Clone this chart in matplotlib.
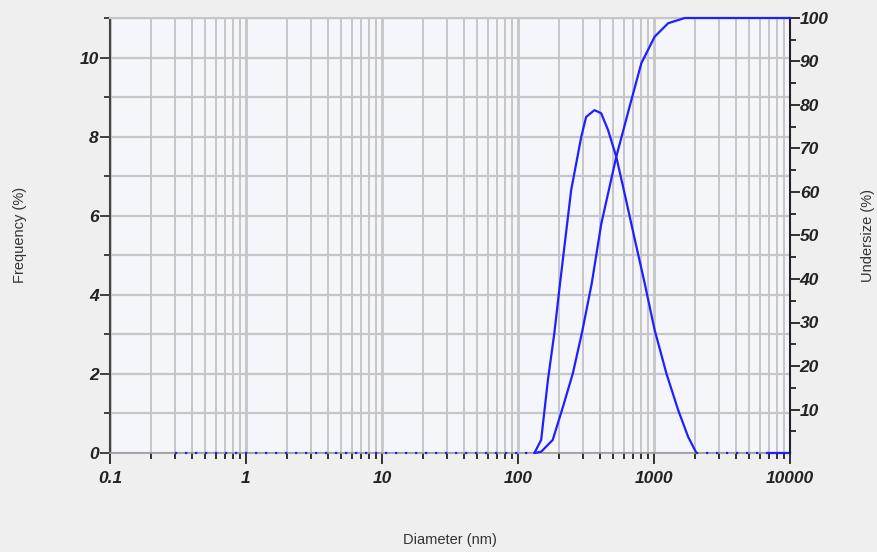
import matplotlib
matplotlib.use("Agg")
import matplotlib.pyplot as plt
from matplotlib.ticker import LogLocator, FixedLocator, NullFormatter, FixedFormatter

# ---- data ----
freq_d = [132, 148, 166, 185, 205, 246, 292, 317, 365, 409, 459, 528, 608, 716, 853, 1011, 1234, 1504, 1782, 2051]
freq_v = [0.0, 0.33, 1.85, 3.03, 4.37, 6.65, 8.0, 8.5, 8.67, 8.59, 8.17, 7.49, 6.56, 5.46, 4.30, 3.11, 2.01, 1.09, 0.41, 0.0]
zero_left_d = [0.3, 132]
zero_right_d = [2051, 7000]
zero_tail_d = [7000, 10000]

under_d = [132, 148, 180, 214, 253, 296, 349, 409, 528, 681, 807, 1011, 1271, 1683, 10000]
under_v = [0.0, 0.3, 3.0, 10.6, 18.3, 27.8, 39.1, 52.6, 68.1, 81.1, 89.6, 95.7, 98.8, 100.0, 100.0]

x_ticks = [0.1, 1, 10, 100, 1000, 10000]
x_ticklabels = ["0.1", "1", "10", "100", "1000", "10000"]
y_left_ticks = [0, 2, 4, 6, 8, 10]
y_right_ticks = [10, 20, 30, 40, 50, 60, 70, 80, 90, 100]

blue = "#1f1fff"
grid_c = "#c6c6c6"
lab_font = dict(family="Liberation Sans", weight="bold", style="italic", size=12.5)

fig = plt.figure(figsize=(8.77, 5.52), dpi=100, facecolor="#efefef")
ax = fig.add_axes([110/877, 1-453/552, 680/877, 435/552])
ax.set_facecolor("#f4f6fc")
ax.set_xscale("log")
ax.set_xlim(0.1, 10000)
ax.set_ylim(0, 11)

# grid
ax.xaxis.set_major_locator(FixedLocator(x_ticks))
ax.xaxis.set_minor_locator(LogLocator(base=10, subs=range(2, 10), numticks=20))
ax.xaxis.set_major_formatter(FixedFormatter(x_ticklabels))
ax.xaxis.set_minor_formatter(NullFormatter())
ax.yaxis.set_major_locator(FixedLocator(y_left_ticks))
ax.yaxis.set_minor_locator(FixedLocator([1, 3, 5, 7, 9, 11]))
ax.grid(True, which="major", axis="x", color=grid_c, lw=2.0)
ax.grid(True, which="minor", axis="x", color=grid_c, lw=1.4)
ax.grid(True, which="both", axis="y", color=grid_c, lw=1.6)
ax.set_axisbelow(True)

ax.spines["top"].set_color(grid_c)
ax.spines["top"].set_linewidth(1.5)
ax.spines["left"].set_color("#444444")
ax.spines["left"].set_linewidth(1.5)
ax.spines["bottom"].set_color("#9a9a9a")
ax.spines["bottom"].set_linewidth(1.2)
ax.spines["right"].set_visible(False)

ax.tick_params(axis="x", which="major", direction="out", length=8, width=1.3, color="#222222", pad=5)
ax.tick_params(axis="x", which="minor", direction="out", length=4, width=1.3, color="#222222")
ax.tick_params(axis="y", which="major", direction="out", length=7, width=1.3, color="#333333", pad=1)
ax.tick_params(axis="y", which="minor", direction="out", length=4, width=1.3, color="#333333")
for t in ax.get_xticklabels() + ax.get_yticklabels():
    t.set_fontproperties(matplotlib.font_manager.FontProperties(**lab_font))
    t.set_color("#222222")

ax.plot(freq_d, freq_v, color=blue, lw=1.6, zorder=3)
ax.plot(zero_left_d, [0, 0], color=blue, lw=1.6, ls=(0, (1, 3.5)), zorder=3, clip_on=False)
ax.plot(zero_right_d, [0, 0], color=blue, lw=1.6, ls=(0, (1, 3.5)), zorder=3, clip_on=False)
ax.plot(zero_tail_d, [0, 0], color=blue, lw=1.6, zorder=3, clip_on=False)

ax2 = ax.twinx()
ax2.set_ylim(0, 100)
ax2.set_xlim(0.1, 10000)
ax2.plot(under_d, under_v, color=blue, lw=1.6, zorder=3, clip_on=False)
for s in ["top", "left", "bottom"]:
    ax2.spines[s].set_visible(False)
ax2.spines["right"].set_color("#222222")
ax2.spines["right"].set_linewidth(1.5)
ax2.yaxis.set_major_locator(FixedLocator(y_right_ticks))
ax2.yaxis.set_minor_locator(FixedLocator([5, 15, 25, 35, 45, 55, 65, 75, 85, 95]))
ax2.tick_params(axis="y", which="major", direction="out", length=7, width=1.3, color="#222222", pad=0)
ax2.tick_params(axis="y", which="minor", direction="out", length=4, width=1.3, color="#222222")
for t in ax2.get_yticklabels():
    t.set_fontproperties(matplotlib.font_manager.FontProperties(**lab_font))
    t.set_color("#222222")

fig.text(20/877, 1-235/552, "Frequency (%)", rotation=90, ha="center", va="center",
         family="Liberation Sans", size=10.5, color="#333333")
fig.text(868/877, 1-235/552, "Undersize (%)", rotation=90, ha="center", va="center",
         family="Liberation Sans", size=10.5, color="#333333")
fig.text(450/877, 1-540/552, "Diameter (nm)", ha="center", va="center",
         family="Liberation Sans", size=10.5, color="#333333")

fig.savefig("out.png", dpi=100, facecolor=fig.get_facecolor())
